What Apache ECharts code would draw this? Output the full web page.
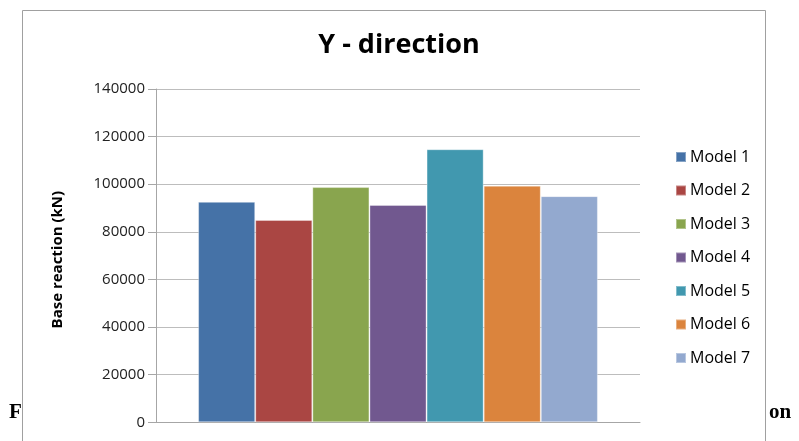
<!DOCTYPE html>
<html>
<head>
<meta charset="utf-8">
<script src="https://cdn.jsdelivr.net/npm/echarts@6/dist/echarts.min.js"></script>
<style>
  html, body { margin: 0; padding: 0; background: #ffffff; }
  #chart { width: 799px; height: 441px; }
</style>
</head>
<body>
<div id="chart"></div>
<script>
// Base reaction per model, Y - direction (kN)
const models = ['Model 1', 'Model 2', 'Model 3', 'Model 4', 'Model 5', 'Model 6', 'Model 7'];
const baseReaction = [92600, 85000, 98800, 91300, 114700, 99400, 95000];
const modelColors = ['#4572a7', '#aa4643', '#89a54e', '#71588f', '#4198af', '#db843d', '#93a9cf'];
const yTicks = [0, 20000, 40000, 60000, 80000, 100000, 120000, 140000];

const chart = echarts.init(document.getElementById('chart'), null, { renderer: 'canvas' });

const series = models.map((name, i) => ({
  name: name,
  type: 'bar',
  data: [baseReaction[i]],
  barGap: '0%',
  barCategoryGap: '17.4%',
  itemStyle: {
    color: modelColors[i],
    borderColor: 'rgba(255,255,255,0.35)',
    borderWidth: 1
  },
  emphasis: { disabled: true },
  z: 3
}));

chart.setOption({
  animation: false,
  backgroundColor: '#ffffff',
  title: {
    text: 'Y - direction',
    left: 394,
    top: 27,
    textAlign: 'center',
    textStyle: { fontFamily: 'Open Sans', fontWeight: 'bold', fontSize: 27, color: '#000000' }
  },
  legend: {
    orient: 'vertical',
    left: 670,
    top: 144,
    itemWidth: 10,
    itemHeight: 10,
    itemGap: 17.5,
    icon: 'rect',
    data: models,
    textStyle: { fontFamily: 'Open Sans', fontSize: 16, color: '#000000', padding: [0, 0, 0, -1] }
  },
  grid: { left: 156, top: 89, right: 159, bottom: 18.7, containLabel: false },
  xAxis: {
    type: 'category',
    data: [''],
    axisLine: { lineStyle: { color: '#a6a6a6', width: 1 } },
    axisTick: { show: false },
    axisLabel: { show: false }
  },
  yAxis: {
    type: 'value',
    min: yTicks[0],
    max: yTicks[yTicks.length - 1],
    interval: yTicks[1] - yTicks[0],
    name: 'Base reaction (kN)',
    nameLocation: 'middle',
    nameGap: 91,
    nameRotate: 90,
    nameTextStyle: { fontFamily: 'Open Sans', fontWeight: 'bold', fontSize: 15, color: '#000000', padding: [0, 8, 0, 0] },
    axisLine: { show: true, lineStyle: { color: '#a6a6a6', width: 1 } },
    axisTick: { show: true, length: 8, lineStyle: { color: '#a6a6a6' } },
    axisLabel: {
      fontFamily: 'Open Sans', fontSize: 15, color: '#222222', margin: 11,
      formatter: (v) => String(v)
    },
    splitLine: { lineStyle: { color: '#bdbdbd', width: 1 } }
  },
  series: series,
  graphic: [
    // caption text of the surrounding page, partly hidden by the chart frame
    {
      type: 'text', left: 9, top: 402, z: -10, silent: true,
      style: { text: 'F', font: 'bold 21px "Liberation Serif", serif', fill: '#000000' }
    },
    {
      type: 'text', left: 769, top: 402, z: -10, silent: true,
      style: { text: 'on', font: 'bold 21px "Liberation Serif", serif', fill: '#000000' }
    },
    // chart frame
    {
      type: 'rect', z: -5, silent: true,
      shape: { x: 22.5, y: 10.5, width: 743, height: 460 },
      style: { fill: '#ffffff', stroke: '#a0a0a0', lineWidth: 1 }
    }
  ]
});
</script>
</body>
</html>
